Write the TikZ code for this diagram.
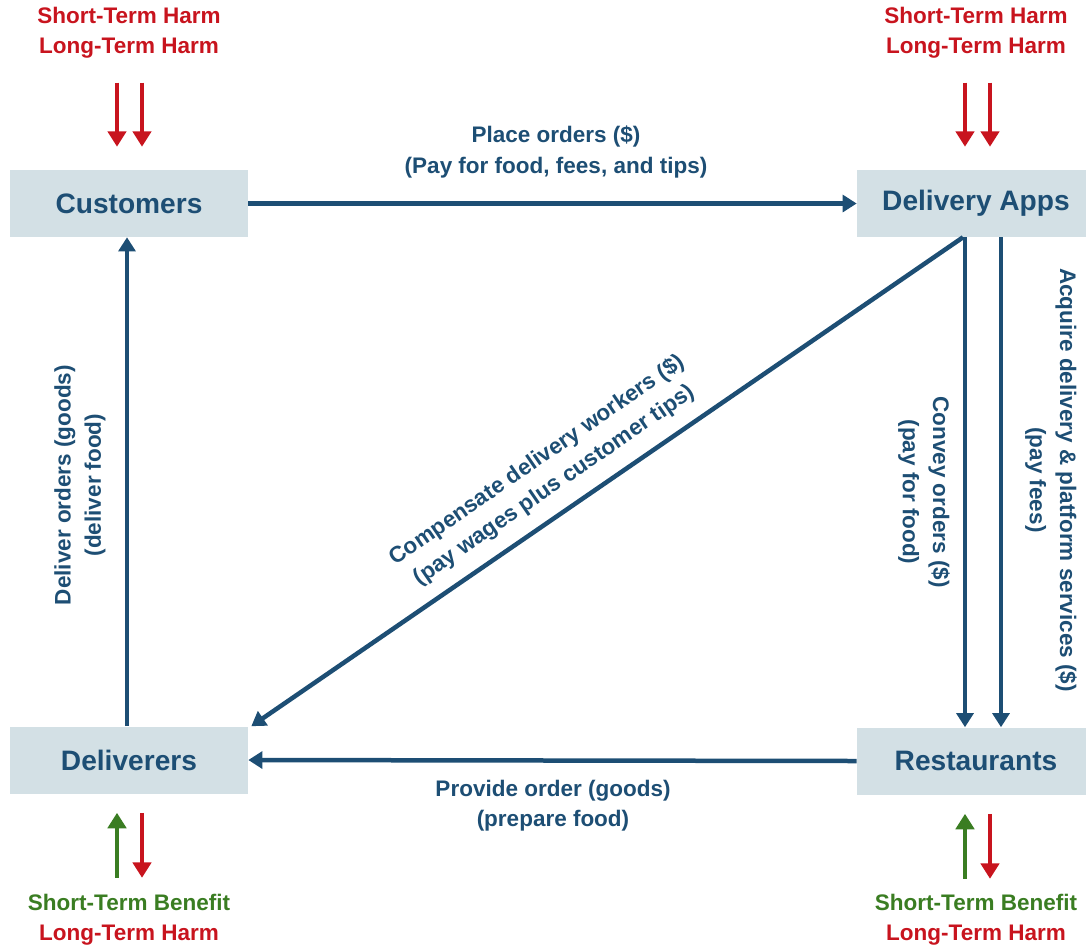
\documentclass[tikz,border=0pt]{standalone}
\usepackage{fontspec}
\setmainfont{Liberation Sans}
\usetikzlibrary{arrows.meta, calc}
\definecolor{navy}{HTML}{1D4E74}
\definecolor{boxfill}{HTML}{D3E0E5}
\definecolor{harmred}{HTML}{C8141E}
\definecolor{gaingreen}{HTML}{3A7D22}
\tikzstyle{actor} = [
	rectangle,
	minimum width=5.95cm,
	minimum height=1.675cm,
	fill=boxfill,
	text=navy,
	font=\fontsize{20}{24}\selectfont\bfseries
]
\tikzstyle{lbl} = [text=navy, align=center, font=\fontsize{16}{21.5}\selectfont\bfseries]
\tikzstyle{fx} = [align=center, font=\fontsize{16}{21.5}\selectfont\bfseries]
\tikzstyle{flow} = [draw=navy, line width=3.2pt, -{Triangle[length=10pt,width=12pt]}]
\tikzstyle{harm} = [draw=harmred, line width=2.8pt, -{Triangle[length=11pt,width=13pt]}, harmred]
\tikzstyle{gain} = [draw=gaingreen, line width=2.8pt, -{Triangle[length=11pt,width=13pt]}, gaingreen]

\begin{document}
\begin{tikzpicture}[x=0.025cm, y=-0.025cm]
    \useasboundingbox (0, 0) rectangle (1086, 950);
    \clip (0, 0) rectangle (1086, 950);
    % actors
    \node[actor] (cust) at (129, 203.5) {Customers};
    \node[actor] (apps) at (976, 203.5) {Delivery Apps};
    \node[actor] (deliv) at (129, 760) {Deliverers};
    \node[actor] (rest) at (976, 761) {Restaurants};
    % harm / benefit notes
    \node[fx] (custfx) at (129, 33) {\textcolor{harmred}{Short-Term Harm}\\\textcolor{harmred}{Long-Term Harm}};
    \node[fx] (appsfx) at (976, 33) {\textcolor{harmred}{Short-Term Harm}\\\textcolor{harmred}{Long-Term Harm}};
    \node[fx] (delivfx) at (129, 920) {\textcolor{gaingreen}{Short-Term Benefit}\\\textcolor{harmred}{Long-Term Harm}};
    \node[fx] (restfx) at (976, 920) {\textcolor{gaingreen}{Short-Term Benefit}\\\textcolor{harmred}{Long-Term Harm}};
    \draw[harm] ($(cust.north)+(-12,-87)$) -- ($(cust.north)+(-12,-23)$);
    \draw[harm] ($(cust.north)+(13,-87)$) -- ($(cust.north)+(13,-23)$);
    \draw[harm] ($(apps.north)+(-11,-87)$) -- ($(apps.north)+(-11,-23)$);
    \draw[harm] ($(apps.north)+(14,-87)$) -- ($(apps.north)+(14,-23)$);
    \draw[gain] ($(deliv.south)+(-12,84)$) -- ($(deliv.south)+(-12,19)$);
    \draw[harm] ($(deliv.south)+(13,19)$) -- ($(deliv.south)+(13,84)$);
    \draw[gain] ($(rest.south)+(-11,84)$) -- ($(rest.south)+(-11,19)$);
    \draw[harm] ($(rest.south)+(14,19)$) -- ($(rest.south)+(14,84)$);
    % flows
    \draw[flow] (cust.east) -- (apps.west);
    \draw[flow] ($(deliv.north)+(-2,0)$) -- ($(cust.south)+(-2,0)$);
    \draw[flow] (rest.west) -- (deliv.east);
    \draw[flow] ($(apps.south)+(-13,0)$) -- ($(deliv.north east)+(3,0)$);
    \draw[flow] ($(apps.south)+(-11,0)$) -- ($(rest.north)+(-11,0)$);
    \draw[flow] ($(apps.south)+(25,0)$) -- ($(rest.north)+(25,0)$);
    % flow labels
    \node[lbl] (placelbl) at (556, 152) {Place orders (\$)\\(Pay for food, fees, and tips)};
    \node[lbl] (providelbl) at (553, 806) {Provide order (goods)\\(prepare food)};
    \node[lbl, rotate=90] (deliverlbl) at (80, 485) {Deliver orders (goods)\\(deliver food)};
    \node[lbl, rotate=-90] (conveylbl) at (924, 492) {Convey orders (\$)\\(pay for food)};
    \node[lbl, rotate=-90] (acquirelbl) at (1051, 480) {Acquire delivery \& platform services (\$)\\(pay fees)};
    \node[lbl, rotate=34.5] (complbl) at (546, 473) {Compensate delivery workers (\$)\\(pay wages plus customer tips)};
\end{tikzpicture}
\end{document}
